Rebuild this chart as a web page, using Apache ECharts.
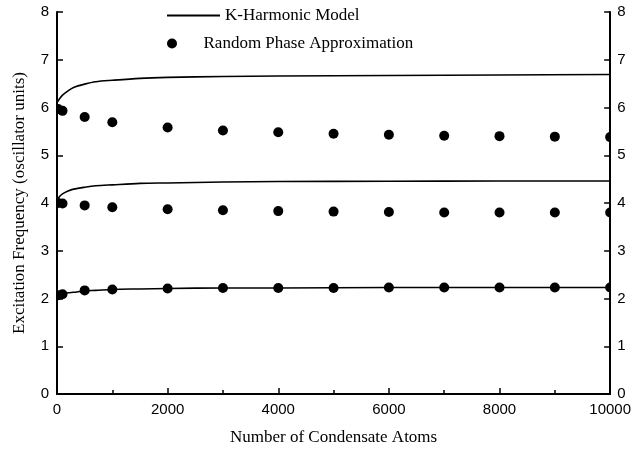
<!DOCTYPE html>
<html>
<head>
<meta charset="utf-8">
<script src="https://cdn.jsdelivr.net/npm/echarts@6/dist/echarts.min.js"></script>
<style>html,body{margin:0;padding:0;background:#fff}#c{width:634px;height:453px}</style>
</head>
<body>
<div id="c"></div>
<script>
// Random Phase Approximation points
var rpaX = [20, 100, 500, 1000, 2000, 3000, 4000, 5000, 6000, 7000, 8000, 9000, 10000];
var rpaUpper = [5.97, 5.93, 5.80, 5.69, 5.58, 5.52, 5.48, 5.45, 5.43, 5.41, 5.40, 5.39, 5.38];
var rpaMiddle = [4.00, 3.99, 3.95, 3.91, 3.87, 3.85, 3.83, 3.82, 3.81, 3.80, 3.80, 3.80, 3.80];
var rpaLower = [2.07, 2.09, 2.17, 2.19, 2.21, 2.22, 2.22, 2.22, 2.23, 2.23, 2.23, 2.23, 2.23];

// K-Harmonic model curves
var khX = [10, 50, 100, 200, 300, 500, 700, 1000, 1500, 2000, 3000, 4000, 6000, 8000, 10000];
var khUpper = [6.12, 6.19, 6.26, 6.35, 6.42, 6.49, 6.54, 6.57, 6.61, 6.63, 6.65, 6.66, 6.67, 6.68, 6.69];
var khMiddle = [4.07, 4.14, 4.19, 4.25, 4.29, 4.33, 4.36, 4.38, 4.41, 4.42, 4.44, 4.45, 4.455, 4.46, 4.46];
var khLower = [2.04, 2.07, 2.09, 2.12, 2.13, 2.16, 2.17, 2.19, 2.20, 2.21, 2.22, 2.22, 2.23, 2.23, 2.23];

var xTicks = [0, 2000, 4000, 6000, 8000, 10000];
var yTicks = [0, 1, 2, 3, 4, 5, 6, 7, 8];

var lineName = 'K-Harmonic Model';
var dotName = 'Random Phase Approximation';

function pairs(xs, ys) { return xs.map(function (x, i) { return [x, ys[i]]; }); }

var tickFont = { fontFamily: 'Liberation Sans, Arial, sans-serif', fontSize: 15, color: '#000' };
var axisLine = { show: true, lineStyle: { color: '#000', width: 2 } };

function lineSeries(ys) {
  return { name: lineName, type: 'line', data: pairs(khX, ys), symbol: 'none', smooth: 0.3,
    lineStyle: { color: '#000', width: 1.6 }, itemStyle: { color: '#000' }, z: 2 };
}
function renderDot(params, api) {
  var p = api.coord([api.value(0), api.value(1)]);
  return { type: 'circle', shape: { cx: p[0], cy: p[1], r: 5 }, style: { fill: '#000' } };
}
function dotSeries(ys) {
  return { name: dotName, type: 'custom', data: pairs(rpaX, ys), renderItem: renderDot,
    encode: { x: 0, y: 1 }, clip: true, itemStyle: { color: '#000' }, z: 3 };
}

var legendText = { fontFamily: 'Liberation Serif, Times New Roman, serif', fontSize: 17, color: '#000' };

var chart = echarts.init(document.getElementById('c'));
chart.setOption({
  animation: false,
  backgroundColor: '#fff',
  grid: { left: 57, right: 22, top: 12, bottom: 59 },
  legend: [
    { data: [{ name: lineName, icon: 'rect' }], left: 162, top: 2, itemWidth: 53, itemHeight: 2, itemGap: 5,
      itemStyle: { color: '#000' }, textStyle: legendText },
    { data: [{ name: dotName, icon: 'circle' }], left: 162, top: 30, itemWidth: 53, itemHeight: 10, itemGap: 5,
      itemStyle: { color: '#000', opacity: 1 }, textStyle: legendText }
  ],
  xAxis: {
    type: 'value', min: xTicks[0], max: xTicks[xTicks.length - 1], interval: 2000,
    name: 'Number of Condensate Atoms', nameLocation: 'middle', nameGap: 35,
    nameTextStyle: { fontFamily: 'Liberation Serif, Times New Roman, serif', fontSize: 17, color: '#000' },
    axisLine: axisLine,
    axisTick: { inside: true, length: 6, lineStyle: { color: '#000', width: 1.5 } },
    minorTick: { show: true, splitNumber: 2, length: 4, lineStyle: { color: '#000', width: 1.5 } },
    axisLabel: Object.assign({ margin: 8, formatter: function (v) { return String(v); } }, tickFont),
    splitLine: { show: false }
  },
  yAxis: [
    {
      type: 'value', min: yTicks[0], max: yTicks[yTicks.length - 1], interval: 1, position: 'left',
      name: 'Excitation Frequency (oscillator units)', nameLocation: 'middle', nameGap: 29,
      nameTextStyle: { fontFamily: 'Liberation Serif, Times New Roman, serif', fontSize: 17, color: '#000' },
      axisLine: axisLine,
      axisTick: { show: true, inside: true, length: 6, lineStyle: { color: '#000', width: 1.5 } },
      axisLabel: Object.assign({ margin: 8 }, tickFont),
      splitLine: { show: false }
    },
    {
      type: 'value', min: yTicks[0], max: yTicks[yTicks.length - 1], interval: 1, position: 'right',
      axisLine: axisLine,
      axisTick: { show: true, inside: true, length: 6, lineStyle: { color: '#000', width: 1.5 } },
      axisLabel: Object.assign({ margin: 7 }, tickFont),
      splitLine: { show: false }
    }
  ],
  series: [
    lineSeries(khUpper), lineSeries(khMiddle), lineSeries(khLower),
    dotSeries(rpaUpper), dotSeries(rpaMiddle), dotSeries(rpaLower)
  ]
});
</script>
</body>
</html>
